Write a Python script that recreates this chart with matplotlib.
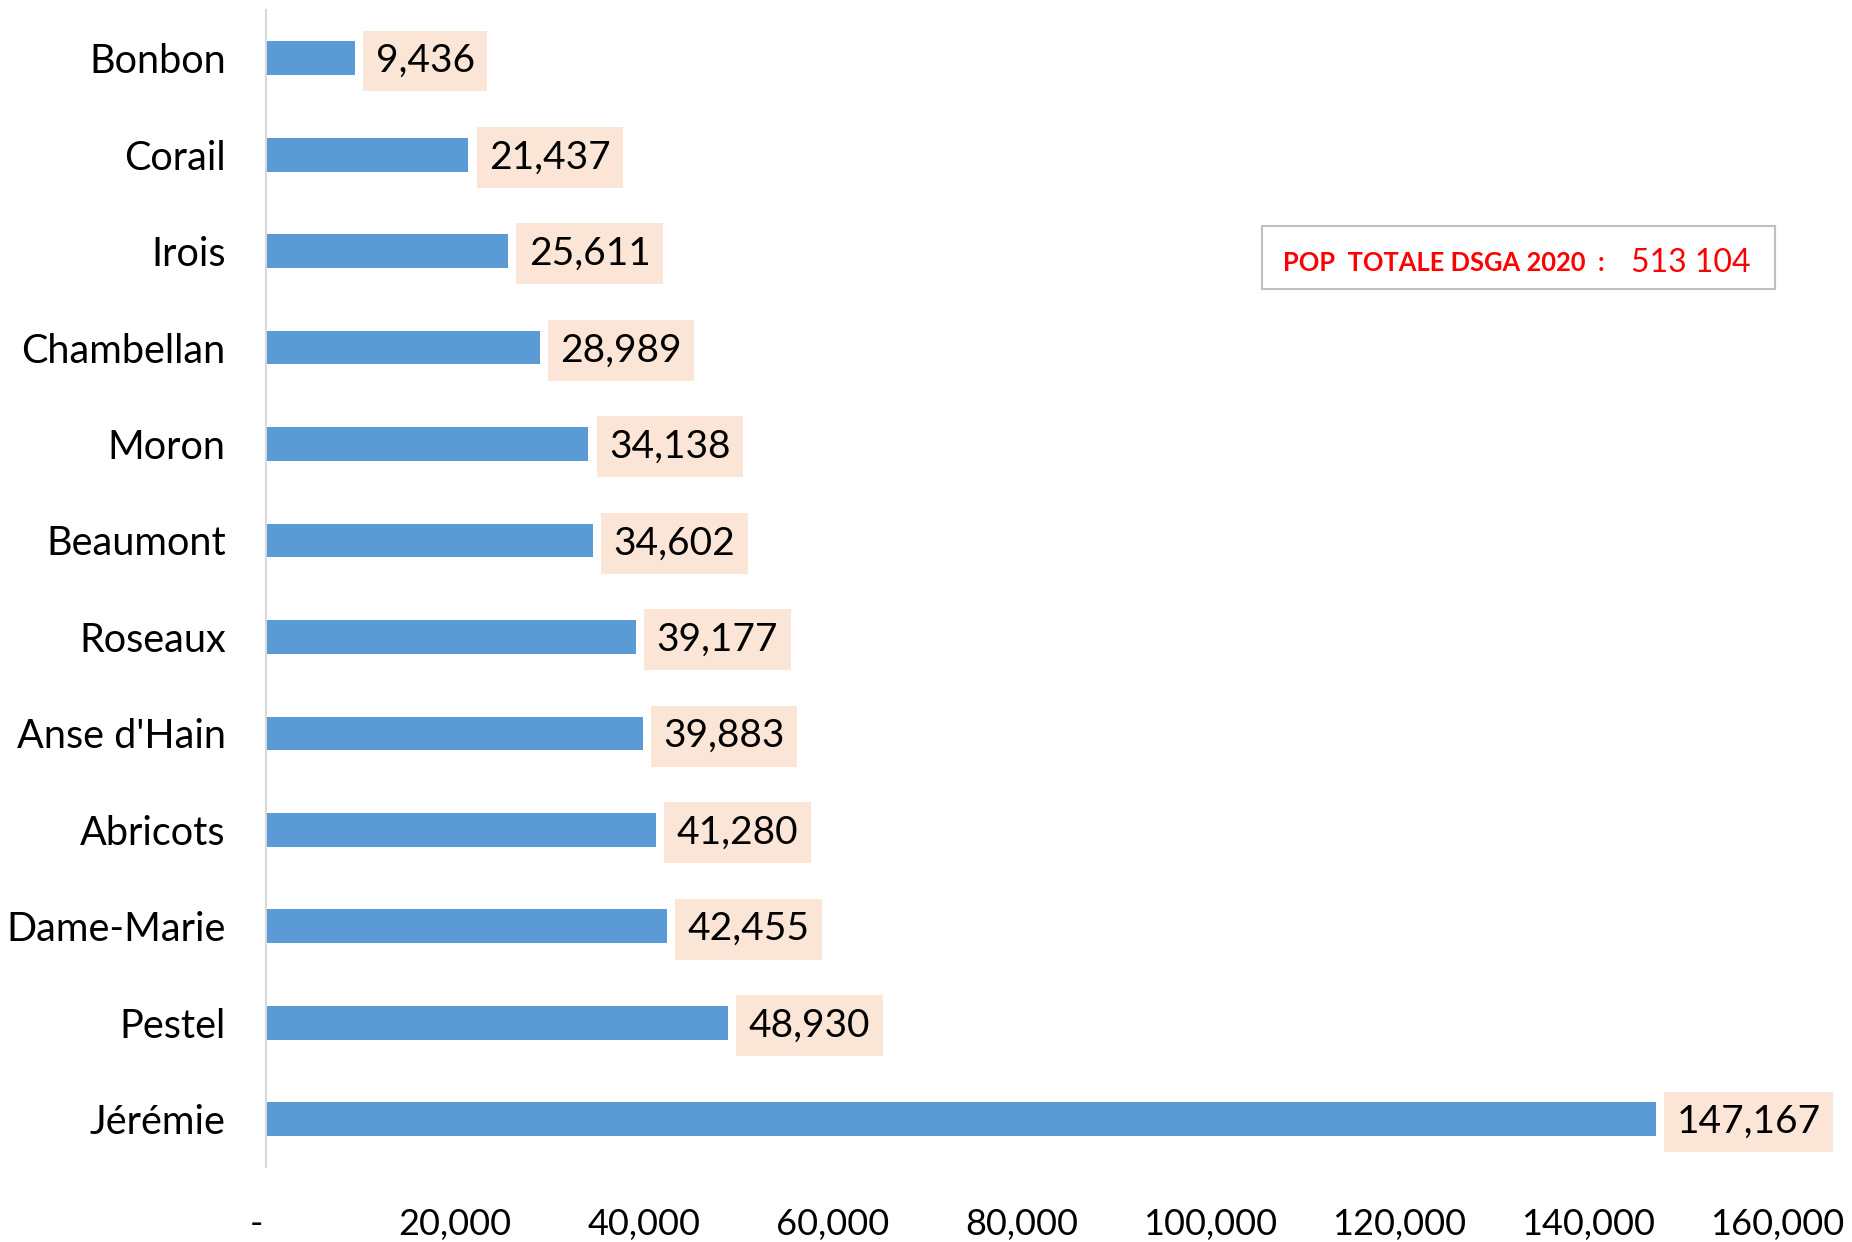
import matplotlib.pyplot as plt
from matplotlib.patches import Rectangle

communes = ['Bonbon', 'Corail', 'Irois', 'Chambellan', 'Moron', 'Beaumont',
            'Roseaux', "Anse d'Hain", 'Abricots', 'Dame-Marie', 'Pestel', 'Jérémie']
population = [9436, 21437, 25611, 28989, 34138, 34602,
              39177, 39883, 41280, 42455, 48930, 147167]
xticks = [0, 20000, 40000, 60000, 80000, 100000, 120000, 140000, 160000]
xtick_labels = ['-  '] + [f'{t:,}' for t in xticks[1:]]

plt.rcParams['font.family'] = ['Lato', 'DejaVu Sans']

fig = plt.figure(figsize=(18.52, 12.42), dpi=100)
ax = fig.add_axes([0.1436, 0.060, 0.8159, 0.932])

y = list(range(len(communes)))
ax.barh(y, population, height=0.35, color='#5B9BD5')

for yi, v in zip(y, population):
    ax.annotate(f'{v:,}', xy=(v, yi), xytext=(15, -2), textcoords='offset points',
                ha='left', va='center', fontsize=28, color='black',
                bbox=dict(boxstyle='square,pad=0.32', facecolor='#FBE5D6', edgecolor='none'))

ax.set_ylim(-0.5, len(communes) - 0.5)
ax.invert_yaxis()
ax.set_yticks(y)
ax.set_yticklabels(communes, fontsize=28.5)
ax.set_xlim(0, 160000)
ax.set_xticks(xticks)
ax.set_xticklabels(xtick_labels, fontsize=26)
ax.tick_params(axis='both', length=0)
ax.tick_params(axis='y', pad=29)
ax.tick_params(axis='x', pad=29)

for s in ['top', 'right', 'bottom']:
    ax.spines[s].set_visible(False)
ax.spines['left'].set_color('#D9D9D9')
ax.spines['left'].set_linewidth(1.5)

# encadré population totale
fig.patches.append(Rectangle((0.6814, 0.7673), 0.277, 0.0507, transform=fig.transFigure,
                             facecolor='white', edgecolor='#BFBFBF', linewidth=1.5))
fig.text(0.6928, 0.7885, 'POP  TOTALE DSGA 2020  :', color='#FF0000', fontsize=18.4,
         fontweight='bold', ha='left', va='center')
fig.text(0.8807, 0.7885, '513 104', color='#FF0000', fontsize=23, ha='left', va='center')

fig.savefig('out.png', dpi=100)
